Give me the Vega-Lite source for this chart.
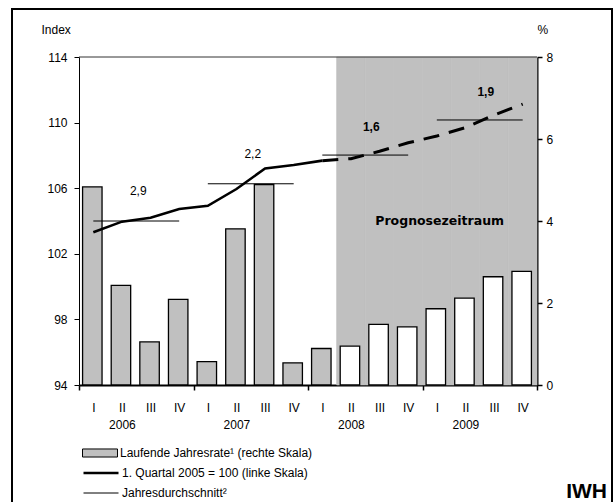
{
  "$schema": "https://vega.github.io/schema/vega-lite/v6.json",
  "width": 600,
  "height": 496,
  "autosize": {"type": "none"},
  "padding": {"left": 12, "top": 9, "right": 4, "bottom": -3},
  "background": "white",
  "config": {
    "font": "Liberation Sans",
    "view": {"stroke": "black", "strokeWidth": 2},
    "axis": {"labelFont": "Liberation Sans", "labelFontSize": 12, "labelColor": "black", "titleFont": "Liberation Sans", "titleFontSize": 12, "titleFontWeight": "normal", "titleColor": "black", "tickColor": "black", "domainColor": "black", "grid": false, "zindex": 1},
    "legend": {"labelFont": "Liberation Sans", "labelFontSize": 12, "labelColor": "black"}
  },
  "title": {"text": "IWH", "orient": "bottom", "anchor": "end", "frame": "group", "offset": -24, "dx": -5, "fontSize": 21, "font": "Liberation Sans", "fontWeight": "bold", "color": "black"},
  "datasets": {
    "q": [
      {"i": 1, "q": "2006-I", "rate": 4.83, "idx": 103.31, "prog": false},
      {"i": 2, "q": "2006-II", "rate": 2.43, "idx": 103.96, "prog": false},
      {"i": 3, "q": "2006-III", "rate": 1.05, "idx": 104.2, "prog": false},
      {"i": 4, "q": "2006-IV", "rate": 2.09, "idx": 104.73, "prog": false},
      {"i": 5, "q": "2007-I", "rate": 0.57, "idx": 104.93, "prog": false},
      {"i": 6, "q": "2007-II", "rate": 3.81, "idx": 105.95, "prog": false},
      {"i": 7, "q": "2007-III", "rate": 4.89, "idx": 107.2, "prog": false},
      {"i": 8, "q": "2007-IV", "rate": 0.54, "idx": 107.41, "prog": false},
      {"i": 9, "q": "2008-I", "rate": 0.89, "idx": 107.68, "prog": false},
      {"i": 10, "q": "2008-II", "rate": 0.95, "idx": 107.8, "prog": true},
      {"i": 11, "q": "2008-III", "rate": 1.48, "idx": 108.25, "prog": true},
      {"i": 12, "q": "2008-IV", "rate": 1.42, "idx": 108.77, "prog": true},
      {"i": 13, "q": "2009-I", "rate": 1.86, "idx": 109.18, "prog": true},
      {"i": 14, "q": "2009-II", "rate": 2.12, "idx": 109.69, "prog": true},
      {"i": 15, "q": "2009-III", "rate": 2.64, "idx": 110.46, "prog": true},
      {"i": 16, "q": "2009-IV", "rate": 2.77, "idx": 111.13, "prog": true}
    ],
    "avg": [
      {"year": "2006", "qa": "2006-I", "qb": "2006-IV", "lq": "2006-III", "avg": 104.0, "label": "2,9", "bold": false},
      {"year": "2007", "qa": "2007-I", "qb": "2007-IV", "lq": "2007-III", "avg": 106.27, "label": "2,2", "bold": false},
      {"year": "2008", "qa": "2008-I", "qb": "2008-IV", "lq": "2008-III", "avg": 108.02, "label": "1,6", "bold": true},
      {"year": "2009", "qa": "2009-I", "qb": "2009-IV", "lq": "2009-III", "avg": 110.16, "label": "1,9", "bold": true}
    ]
  },
  "data": {"name": "q"},
  "layer": [
    {
      "layer": [
        {
          "transform": [{"filter": "datum.prog"}],
          "mark": {"type": "rect", "fill": "#c0c0c0", "stroke": "#c0c0c0", "strokeWidth": 0.6},
          "encoding": {
            "x": {
              "field": "q", "type": "nominal", "sort": null, "title": null,
              "scale": {"type": "band", "domain": ["2006-I","2006-II","2006-III","2006-IV","2007-I","2007-II","2007-III","2007-IV","2008-I","2008-II","2008-III","2008-IV","2009-I","2009-II","2009-III","2009-IV"], "range": [67, 525], "paddingInner": 0, "paddingOuter": 0},
              "axis": {
                "orient": "bottom", "offset": -120, "domainWidth": 2, "tickSize": 5, "tickWidth": 1.5, "tickBand": "extent",
                "tickOpacity": {"condition": {"test": "!isString(datum.value) || indexof(datum.value,'-IV')>=0", "value": 1}, "value": 0},
                "labelPadding": 12, "labelLineHeight": 17, "labelAngle": 0, "labelOverlap": false, "labelFlush": false,
                "labelExpr": "isString(datum.value) ? (split(datum.value,'-')[1] === 'II' ? ['II', split(datum.value,'-')[0]] : split(datum.value,'-')[1]) : ''",
                "title": null
              }
            },
            "y": {"datum": 8, "type": "quantitative"},
            "y2": {"datum": 0}
          }
        },
        {
          "mark": {"type": "bar", "width": {"band": 0.68}, "stroke": "black", "strokeWidth": 1.3, "xOffset": -1},
          "encoding": {
            "x": {"field": "q", "type": "nominal", "sort": null, "title": null},
            "y": {
              "field": "rate", "type": "quantitative",
              "scale": {"domain": [0, 8], "range": [376, 48], "nice": false, "zero": true},
              "axis": {"orient": "right", "offset": -75, "values": [0, 2, 4, 6, 8], "format": "d", "domainWidth": 2, "tickSize": 5, "tickWidth": 1.5, "labelPadding": 4, "title": "%", "titleAngle": 0, "titleAlign": "left", "titleBaseline": "middle", "titleX": 0, "titleY": 20}
            },
            "fill": {
              "condition": {"test": "datum.prog", "value": "white"},
              "datum": "Laufende Jahresrate¹ (rechte Skala)", "type": "nominal",
              "scale": {"domain": ["Laufende Jahresrate¹ (rechte Skala)"], "range": ["#c0c0c0"]},
              "legend": {
                "orient": "none", "legendX": 70, "legendY": 435, "title": null, "direction": "vertical",
                "symbolType": "M-1,-0.23H1V0.23H-1Z", "symbolSize": 1225, "symbolStrokeColor": "black", "symbolStrokeWidth": 1,
                "clipHeight": 18, "rowPadding": 2, "labelOffset": 2, "labelFontSize": 12, "labelLimit": 400
              }
            }
          }
        },
        {
          "data": {"values": [{"note": "Prognosezeitraum"}]},
          "mark": {"type": "text", "font": "DejaVu Sans", "fontWeight": "bold", "fontSize": 12.5, "color": "black", "baseline": "middle", "align": "center"},
          "encoding": {
            "x": {"datum": "2009-I", "bandPosition": 0.6},
            "y": {"datum": 4, "type": "quantitative"},
            "text": {"field": "note"}
          }
        }
      ]
    },
    {
      "layer": [
        {
          "data": {"values": [{"top": 114}]},
          "mark": {"type": "rule", "color": "#333333", "strokeWidth": 1},
          "encoding": {
            "x": {"datum": "2006-I", "bandPosition": 0},
            "x2": {"datum": "2009-IV", "bandPosition": 1},
            "y": {"field": "top", "type": "quantitative"}
          }
        },
        {
          "transform": [{"filter": "datum.i <= 9"}],
          "mark": {"type": "line", "color": "black"},
          "encoding": {
            "x": {"field": "q", "type": "nominal", "sort": null, "title": null},
            "y": {
              "field": "idx", "type": "quantitative",
              "scale": {"domain": [94, 114], "range": [376, 48], "nice": false, "zero": false},
              "axis": {"orient": "left", "offset": -67, "values": [94, 98, 102, 106, 110, 114], "domainWidth": 1, "tickSize": 5, "tickWidth": 1, "labelPadding": 7, "title": "Index", "titleAngle": 0, "titleAlign": "left", "titleBaseline": "middle", "titleX": -38, "titleY": 20}
            },
            "strokeWidth": {
              "datum": "1. Quartal 2005 = 100 (linke Skala)", "type": "ordinal",
              "scale": {"type": "ordinal", "domain": ["1. Quartal 2005 = 100 (linke Skala)", "Jahresdurchschnitt²"], "range": [2.6, 1]},
              "legend": {
                "orient": "none", "legendX": 70, "legendY": 455, "title": null, "direction": "vertical",
                "symbolType": "stroke", "symbolSize": 1225, "symbolStrokeColor": "black",
                "clipHeight": 18, "rowPadding": 2, "labelOffset": 2, "labelFontSize": 12, "labelLimit": 400
              }
            }
          }
        },
        {
          "transform": [{"filter": "datum.i >= 9"}],
          "mark": {"type": "line", "color": "black", "strokeWidth": 3, "strokeDash": [16, 10]},
          "encoding": {
            "x": {"field": "q", "type": "nominal", "sort": null, "title": null},
            "y": {"field": "idx", "type": "quantitative"}
          }
        },
        {
          "data": {"name": "avg"},
          "mark": {"type": "rule", "color": "black", "strokeWidth": 1},
          "encoding": {
            "x": {"field": "qa", "type": "nominal", "title": null},
            "x2": {"field": "qb"},
            "y": {"field": "avg", "type": "quantitative"}
          }
        },
        {
          "data": {"name": "avg"},
          "transform": [{"filter": "!datum.bold"}],
          "mark": {"type": "text", "fontSize": 12, "color": "black", "dx": 2, "dy": -30, "baseline": "middle"},
          "encoding": {
            "x": {"field": "lq", "type": "nominal", "bandPosition": 0, "title": null},
            "y": {"field": "avg", "type": "quantitative"},
            "text": {"field": "label"}
          }
        },
        {
          "data": {"name": "avg"},
          "transform": [{"filter": "datum.bold"}],
          "mark": {"type": "text", "fontSize": 12, "fontWeight": "bold", "color": "black", "dx": 6, "dy": -28, "baseline": "middle"},
          "encoding": {
            "x": {"field": "lq", "type": "nominal", "bandPosition": 0, "title": null},
            "y": {"field": "avg", "type": "quantitative"},
            "text": {"field": "label"}
          }
        }
      ]
    }
  ],
  "resolve": {"scale": {"y": "independent"}, "axis": {"y": "independent"}}
}
